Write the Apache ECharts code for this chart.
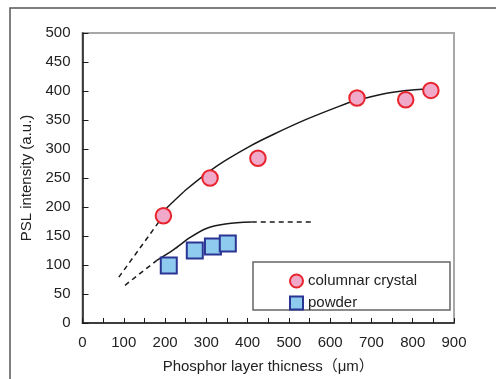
<!DOCTYPE html>
<html><head><meta charset="utf-8">
<script src="https://cdn.jsdelivr.net/npm/echarts@6/dist/echarts.min.js"></script>
<style>html,body{margin:0;padding:0;background:#fff}#c{width:496px;height:379px}</style>
</head><body><div id="c"></div>
<script>
// Data
var crystalPoints = [[196,185],[309,250],[425,284],[665,388],[783,385],[844,401]];
var powderPoints = [[209,99],[272,125],[316,132],[352,137]];
var crystalCurve = [[202,197],[253,231],[326,271],[406,305],[462,325],[542,351],[623,374],[663,384],[704,391],[744,397],[784,401],[845,404]];
var crystalDashed = [[88,79],[196,185]];
var powderCurve = [[180,108],[220,126],[260,147],[300,163],[350,171],[410,174]];
var powderDashedLow = [[103,65],[180,108]];
var powderDashedFlat = [[410,174],[553,174]];
var xTicks = [0,900,100];
var yTicks = [0,500,50];

var FONT = 'Liberation Sans, Arial, Noto Sans CJK JP, sans-serif';
var chart = echarts.init(document.getElementById('c'));
var lineStyleSolid = {color:'#1a1a1a', width:1.5};
var lineStyleDash = {color:'#1a1a1a', width:1.5, type:[5,4]};
chart.setOption({
  animation:false,
  backgroundColor:'#fff',
  textStyle:{fontFamily:FONT},
  grid:{left:82.5, right:42, top:33, bottom:54, show:true, borderColor:'#a8a8a8', borderWidth:2, backgroundColor:'transparent'},
  xAxis:{type:'value', min:xTicks[0], max:xTicks[1], interval:xTicks[2],
    name:'Phosphor layer thicness（μm）', nameLocation:'middle', nameGap:36,
    nameTextStyle:{fontSize:15, color:'#222', fontFamily:FONT},
    axisLine:{show:true, onZero:false, lineStyle:{color:'#1a1a1a', width:1.5}},
    axisTick:{show:true, inside:true, length:5, lineStyle:{color:'#1a1a1a', width:1}},
    minorTick:{show:true, splitNumber:2, length:5, lineStyle:{color:'#1a1a1a', width:1}},
    axisLabel:{fontSize:15, color:'#222', margin:12, fontFamily:FONT},
    splitLine:{show:false}},
  yAxis:{type:'value', min:yTicks[0], max:yTicks[1], interval:yTicks[2],
    name:'PSL intensity (a.u.)', nameLocation:'middle', nameGap:45,
    nameTextStyle:{fontSize:15, color:'#222', fontFamily:FONT},
    axisLine:{show:true, onZero:false, lineStyle:{color:'#1a1a1a', width:1.5}},
    axisTick:{show:true, inside:true, length:6, lineStyle:{color:'#1a1a1a', width:1}},
    axisLabel:{fontSize:15, color:'#222', margin:12, fontFamily:FONT},
    splitLine:{show:false}},
  legend:{orient:'vertical', left:284, top:267, itemWidth:13, itemHeight:13, itemGap:4,
    textStyle:{fontSize:15, color:'#222', lineHeight:18, fontFamily:FONT},
    data:[{name:'columnar crystal', icon:'circle'},{name:'powder', icon:'rect'}]},
  graphic:[
    {type:'polyline', shape:{points:[[10,379],[10,8],[496,8]]}, style:{stroke:'#555', lineWidth:1.5, fill:null}, silent:true},
    {type:'rect', shape:{x:253, y:262, width:197, height:48}, style:{stroke:'#666', lineWidth:1.5, fill:'#fff'}, z:-1, silent:true}
  ],
  series:[
    {type:'line', data:crystalCurve, smooth:0.2, showSymbol:false, symbol:'none', lineStyle:lineStyleSolid, z:2, silent:true},
    {type:'line', data:crystalDashed, showSymbol:false, symbol:'none', lineStyle:lineStyleDash, z:2, silent:true},
    {type:'line', data:powderCurve, smooth:0.3, showSymbol:false, symbol:'none', lineStyle:lineStyleSolid, z:2, silent:true},
    {type:'line', data:powderDashedLow, showSymbol:false, symbol:'none', lineStyle:lineStyleDash, z:2, silent:true},
    {type:'line', data:powderDashedFlat, showSymbol:false, symbol:'none', lineStyle:lineStyleDash, z:2, silent:true},
    {name:'columnar crystal', type:'scatter', data:crystalPoints, symbol:'circle', symbolSize:15.5,
      itemStyle:{color:'#f0a9c8', borderColor:'#e8242e', borderWidth:2, opacity:1}, z:5},
    {name:'powder', type:'scatter', data:powderPoints, symbol:'rect', symbolSize:16,
      itemStyle:{color:'#8ecbee', borderColor:'#2b3594', borderWidth:2, opacity:1}, z:5}
  ]
});
</script></body></html>
